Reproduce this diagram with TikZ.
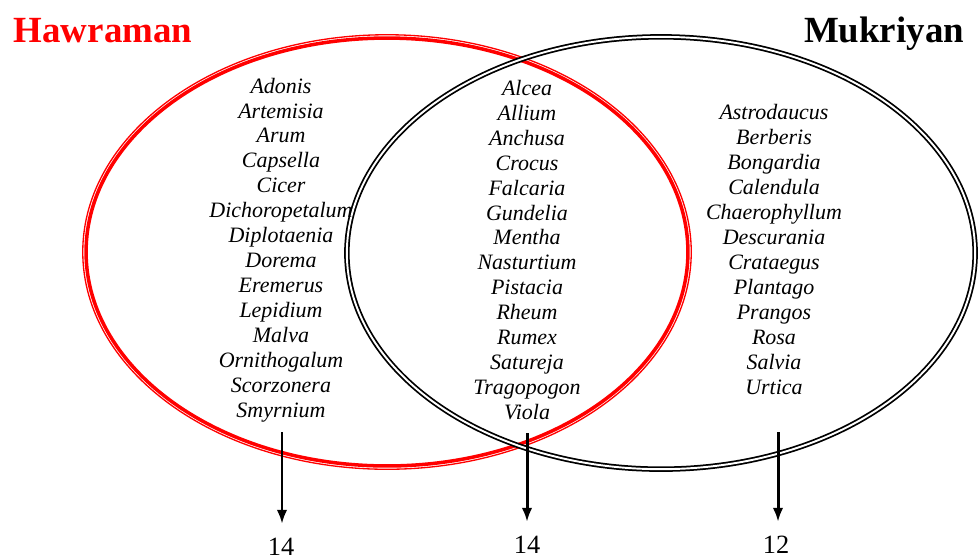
\documentclass[tikz,border=0pt]{standalone}
\usepackage{fontspec}
\setmainfont{Liberation Serif}
\usetikzlibrary{arrows.meta}
\begin{document}
\begin{tikzpicture}[x=0.02cm, y=-0.02cm,
    lista/.style={align=center, inner sep=0pt, font=\fontsize{12.5}{14.2}\selectfont\itshape},
    titolo/.style={anchor=base, inner sep=0pt, font=\fontsize{21}{24}\selectfont\bfseries},
    numero/.style={inner sep=0pt, font=\fontsize{15}{17}\selectfont},
    freccia/.style={-{Latex[length=8pt, width=6pt]}, line width=1.7pt, shorten >=8pt}]
  \useasboundingbox (0,0) rectangle (979,559);

  % Insiemi
  \draw[red, line width=0.75pt] (387,252) ellipse [x radius=6.086cm, y radius=4.346cm];
  \draw[red, line width=2pt] (387,252) ellipse [x radius=6.02cm, y radius=4.28cm];
  \draw[line width=1pt, double, double distance=1.1pt] (661,253) ellipse [x radius=6.284cm, y radius=4.324cm];

  % Nodi
  \node[titolo, red] (H) at (103,42) {Hawraman};
  \node[titolo] (M) at (884,42) {Mukriyan};

  \node[lista] (L) at (281,250) {Adonis\\Artemisia\\Arum\\Capsella\\Cicer\\Dichoropetalum\\Diplotaenia\\Dorema\\Eremerus\\Lepidium\\Malva\\Ornithogalum\\Scorzonera\\Smyrnium};
  \node[lista] (C) at (527,250) {Alcea\\Allium\\Anchusa\\Crocus\\Falcaria\\Gundelia\\Mentha\\Nasturtium\\Pistacia\\Rheum\\Rumex\\Satureja\\Tragopogon\\Viola};
  \node[lista] (R) at (774,249.5) {Astrodaucus\\Berberis\\Bongardia\\Calendula\\Chaerophyllum\\Descurania\\Crataegus\\Plantago\\Prangos\\Rosa\\Salvia\\Urtica};

  \node[numero] (1) at (281,547) {14};
  \node[numero] (2) at (527,545) {14};
  \node[numero] (3) at (776,545) {12};

  \coordinate (a1) at (282,432);
  \coordinate (a2) at (527,433);
  \coordinate (a3) at (778,432);

  % Archi
  \draw[freccia] (a1) -- (a1 |- 1.north);
  \draw[freccia] (a2) -- (a2 |- 2.north);
  \draw[freccia] (a3) -- (a3 |- 3.north);
\end{tikzpicture}
\end{document}
